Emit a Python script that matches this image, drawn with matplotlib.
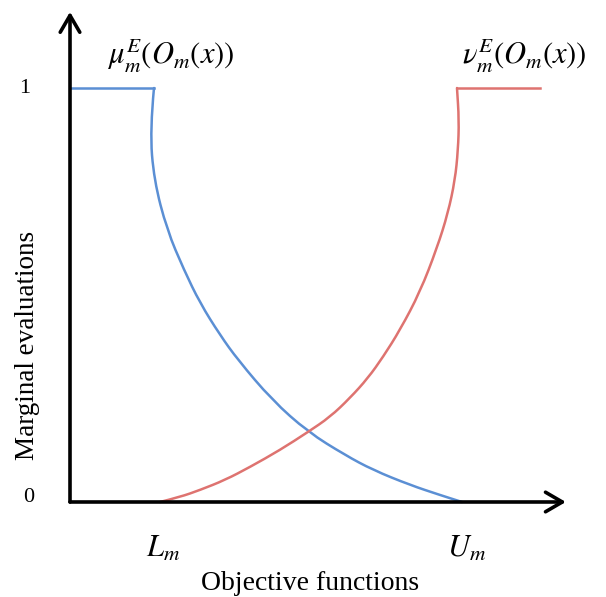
import matplotlib
matplotlib.use('Agg')
import matplotlib.pyplot as plt
from matplotlib.path import Path
from matplotlib.patches import PathPatch

# values (x: L_m = 0, U_m = 1; y: marginal evaluation)
mu_x = [-0.0199, -0.0331, -0.0199, 0.0232, 0.0795, 0.1325, 0.1987, 0.2583,
        0.3709, 0.4901, 0.6126, 0.7053, 0.8278, 0.9272, 1.0000]
mu_y = [1.0000, 0.8986, 0.7778, 0.6570, 0.5604, 0.4807, 0.4034, 0.3430,
        0.2464, 0.1691, 0.1135, 0.0773, 0.0411, 0.0169, 0.0000]

nu_x = [0.0000, 0.0662, 0.1325, 0.2152, 0.2980, 0.3974, 0.4901, 0.5629,
        0.6291, 0.6887, 0.7384, 0.7947, 0.8609, 0.9172, 0.9536, 0.9768,
        0.9868, 0.9901, 0.9834]
nu_y = [0.0000, 0.0121, 0.0290, 0.0531, 0.0845, 0.1256, 0.1691, 0.2053,
        0.2512, 0.2995, 0.3502, 0.4155, 0.5072, 0.6135, 0.6981, 0.7778,
        0.8502, 0.9227, 1.0000]

x_origin = -0.298
x_tip = 1.344
y_tip = 1.184
nu_end = 1.258

plt.rcParams['mathtext.fontset'] = 'stix'
plt.rcParams['font.family'] = 'Liberation Serif'


def smooth_curve(xs, ys, color):
    # quadratic bezier segments through the midpoints of the read points
    pts = list(zip(xs, ys))
    verts = [pts[0]]
    codes = [Path.MOVETO]
    for i in range(1, len(pts) - 1):
        mid = ((pts[i][0] + pts[i + 1][0]) / 2, (pts[i][1] + pts[i + 1][1]) / 2)
        verts += [pts[i], mid]
        codes += [Path.CURVE3, Path.CURVE3]
    verts.append(pts[-1])
    codes.append(Path.LINETO)
    return PathPatch(Path(verts, codes), facecolor='none', edgecolor=color,
                     lw=1.8, capstyle='round', joinstyle='round')


fig = plt.figure(figsize=(6.06, 5.97), dpi=100)
ax = fig.add_axes([0, 0, 1, 1])
ax.set_xlim(-0.5298, 1.4768)
ax.set_ylim(-0.2295, 1.2126)
ax.axis('off')

blue = '#5b8fd4'
red = '#de7370'

# flat parts at level 1
ax.plot([x_origin, mu_x[0]], [1, 1], color=blue, lw=1.8)
ax.plot([nu_x[-1], nu_end], [1, 1], color=red, lw=1.8)

# curves
ax.add_patch(smooth_curve(mu_x, mu_y, blue))
ax.add_patch(smooth_curve(nu_x, nu_y, red))

# axes with open arrow heads
arrow = dict(arrowstyle='->,head_length=0.55,head_width=0.32', color='black',
             lw=2.6, mutation_scale=22, shrinkA=0, shrinkB=0)
ax.annotate('', xy=(x_tip, 0), xytext=(x_origin, 0), arrowprops=arrow)
ax.annotate('', xy=(x_origin, y_tip), xytext=(x_origin, 0), arrowprops=arrow)

# labels
ax.text(0.036, 1.077, r'$\mu_m^E(O_m(x))$', fontsize=22, ha='center', va='center')
ax.text(1.207, 1.077, r'$\nu_m^E(O_m(x))$', fontsize=22, ha='center', va='center')
ax.text(0.01, -0.1135, r'$L_m$', fontsize=22, ha='center', va='center')
ax.text(1.015, -0.1135, r'$U_m$', fontsize=22, ha='center', va='center')
ax.text(-0.447, 1.0, '1', fontsize=16, ha='center', va='center')
ax.text(-0.434, 0.012, '0', fontsize=16, ha='center', va='center')
ax.text(0.497, -0.196, 'Objective functions', fontsize=20, ha='center', va='center')
ax.text(-0.440, 0.379, 'Marginal evaluations', fontsize=19.5, ha='center',
        va='center', rotation=90)

fig.savefig('out.png', dpi=100)
